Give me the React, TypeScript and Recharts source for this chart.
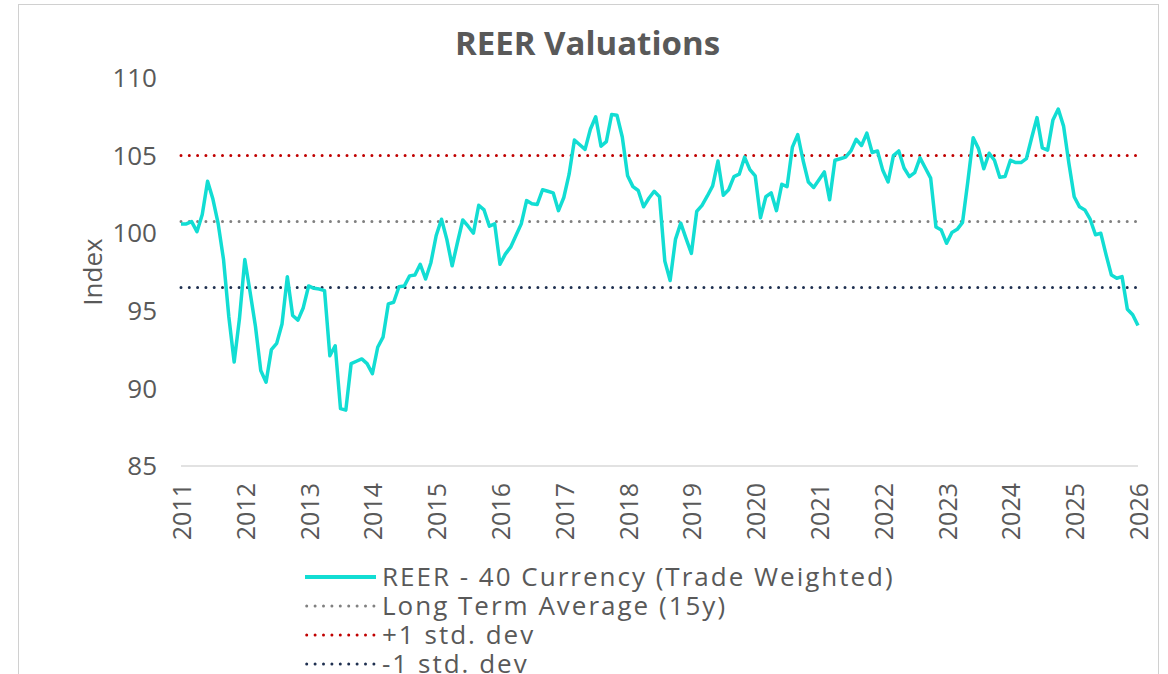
import React from "react";
import { LineChart, Line, XAxis, YAxis, ReferenceLine, Legend } from "recharts";

const startYear = 2011;

// monthly REER index, Jan 2011 .. Jan 2026
const reerValues = [
  100.6, 100.6, 100.75, 100.1, 101.2, 103.35, 102.2, 100.6, 98.3, 94.6,
  91.7, 94.5, 98.3, 96.2, 94.0, 91.15, 90.4, 92.5, 92.9, 94.15,
  97.2, 94.7, 94.4, 95.2, 96.6, 96.45, 96.4, 96.3, 92.1, 92.75,
  88.7, 88.6, 91.6, 91.75, 91.9, 91.6, 90.95, 92.65, 93.3, 95.45,
  95.55, 96.55, 96.6, 97.25, 97.3, 98.0, 97.05, 98.1, 99.85, 100.9,
  99.6, 97.9, 99.4, 100.85, 100.45, 100.0, 101.8, 101.5, 100.45, 100.6,
  98.0, 98.65, 99.1, 99.85, 100.6, 102.1, 101.9, 101.85, 102.8, 102.7,
  102.6, 101.45, 102.3, 103.8, 106.0, 105.7, 105.4, 106.7, 107.5, 105.6,
  105.9, 107.65, 107.6, 106.2, 103.7, 103.0, 102.75, 101.7, 102.25, 102.7,
  102.35, 98.2, 96.95, 99.6, 100.65, 99.65, 98.7, 101.4, 101.8, 102.4,
  103.05, 104.65, 102.45, 102.8, 103.65, 103.8, 104.9, 104.1, 103.7, 101.0,
  102.35, 102.6, 101.45, 103.15, 103.0, 105.55, 106.35, 104.7, 103.3, 102.95,
  103.45, 103.95, 102.15, 104.7, 104.8, 104.9, 105.3, 106.05, 105.65, 106.45,
  105.2, 105.3, 104.05, 103.3, 105.0, 105.3, 104.2, 103.65, 103.9, 104.85,
  104.2, 103.55, 100.4, 100.2, 99.35, 100.05, 100.25, 100.7, 103.35, 106.15,
  105.45, 104.15, 105.15, 104.7, 103.6, 103.65, 104.7, 104.55, 104.55, 104.8,
  106.15, 107.45, 105.5, 105.35, 107.3, 108.0, 106.9, 104.5, 102.35, 101.7,
  101.5, 100.9, 99.9, 100.0, 98.6, 97.3, 97.1, 97.2, 95.1, 94.75, 94.05,
];

const yearTicks = [
  2011, 2012, 2013, 2014, 2015, 2016, 2017, 2018,
  2019, 2020, 2021, 2022, 2023, 2024, 2025, 2026,
];
const indexTicks = [85, 90, 95, 100, 105, 110];

const longTermAvg = 100.75;
const plusOneSd = 105.0;
const minusOneSd = 96.5;

const TEAL = "#12DDD3";
const GREY = "#808080";
const RED = "#C00000";
const NAVY = "#1F3050";
const TEXT = "#595959";
const FONT = "'Open Sans', sans-serif";

const legendItems = [
  { name: "REER - 40 Currency (Trade Weighted)", color: TEAL, dotted: false },
  { name: "Long Term Average (15y)", color: GREY, dotted: true },
  { name: "+1 std. dev", color: RED, dotted: true },
  { name: "-1 std. dev", color: NAVY, dotted: true },
];

const data = reerValues.map((v, i) => ({ m: i, reer: v }));

const YearTick = ({ x, y, payload }: any) => (
  <text
    x={x}
    y={y}
    transform={`rotate(-90 ${x} ${y})`}
    textAnchor="end"
    dominantBaseline="central"
    fill={TEXT}
    fontSize={25}
    fontFamily={FONT}
  >
    {startYear + payload.value / 12}
  </text>
);

const renderLegend = () => (
  <div style={{ display: "flex", flexDirection: "column" }}>
    {legendItems.map((item) => (
      <div
        key={item.name}
        style={{ display: "flex", alignItems: "center", height: 29 }}
      >
        <svg width={73} height={10}>
          {item.dotted ? (
            <line
              x1={2.7}
              y1={5}
              x2={71}
              y2={5}
              stroke={item.color}
              strokeWidth={3}
              strokeDasharray="0 8.4"
              strokeLinecap="round"
            />
          ) : (
            <line x1={1} y1={5} x2={72} y2={5} stroke={item.color} strokeWidth={4} />
          )}
        </svg>
        <span
          style={{
            marginLeft: 5,
            fontSize: 26,
            lineHeight: "29px",
            letterSpacing: 2,
            color: TEXT,
            fontFamily: FONT,
            whiteSpace: "nowrap",
          }}
        >
          {item.name}
        </span>
      </div>
    ))}
  </div>
);

const dotted = (color: string) => ({
  stroke: color,
  strokeWidth: 3,
  strokeDasharray: "0 8.3",
  strokeLinecap: "round" as const,
});

export default function App() {
  return (
    <div
      style={{
        position: "absolute",
        left: 0,
        top: 0,
        width: 1168,
        height: 674,
        overflow: "hidden",
        background: "#fff",
        fontFamily: FONT,
      }}
    >
      <div
        style={{
          position: "absolute",
          left: 18,
          top: 4,
          width: 1139,
          height: 720,
          border: "1px solid #d0d0d0",
        }}
      />
      <div
        style={{
          position: "absolute",
          left: 0,
          top: 26,
          width: 1175,
          textAlign: "center",
          fontSize: 33,
          lineHeight: "33px",
          fontWeight: 700,
          color: TEXT,
        }}
      >
        REER Valuations
      </div>
      <LineChart
        width={1168}
        height={674}
        data={data}
        margin={{ top: 78, right: 30, left: 0, bottom: 0 }}
        style={{ position: "absolute", left: 0, top: 0 }}
      >
        <XAxis
          dataKey="m"
          type="number"
          domain={[0, 180]}
          ticks={yearTicks.map((y) => (y - startYear) * 12)}
          tick={<YearTick />}
          tickLine={false}
          tickSize={0}
          tickMargin={17}
          axisLine={{ stroke: "#d9d9d9", strokeWidth: 1.5 }}
          height={208}
          interval={0}
        />
        <YAxis
          type="number"
          domain={[85, 110]}
          ticks={indexTicks}
          width={181}
          axisLine={false}
          tickLine={false}
          tickSize={0}
          tickMargin={24}
          tick={{ fill: TEXT, fontSize: 26, fontFamily: FONT }}
          label={{
            content: ({ viewBox }: any) => (
              <text
                x={viewBox.x + 92}
                y={viewBox.y + viewBox.height / 2}
                transform={`rotate(-90 ${viewBox.x + 92} ${viewBox.y + viewBox.height / 2})`}
                textAnchor="middle"
                dominantBaseline="central"
                fill={TEXT}
                fontSize={26}
                fontFamily={FONT}
              >
                Index
              </text>
            ),
          }}
        />
        <ReferenceLine y={plusOneSd} {...dotted(RED)} />
        <ReferenceLine y={longTermAvg} {...dotted(GREY)} />
        <ReferenceLine y={minusOneSd} {...dotted(NAVY)} />
        <Line
          type="linear"
          dataKey="reer"
          name="REER - 40 Currency (Trade Weighted)"
          stroke={TEAL}
          strokeWidth={3.5}
          strokeLinejoin="round"
          dot={false}
          activeDot={false}
          isAnimationActive={false}
        />
        <Legend
          layout="vertical"
          align="center"
          verticalAlign="middle"
          content={renderLegend}
          wrapperStyle={{ left: 304, top: 562, width: "auto", height: "auto" }}
        />
      </LineChart>
    </div>
  );
}
